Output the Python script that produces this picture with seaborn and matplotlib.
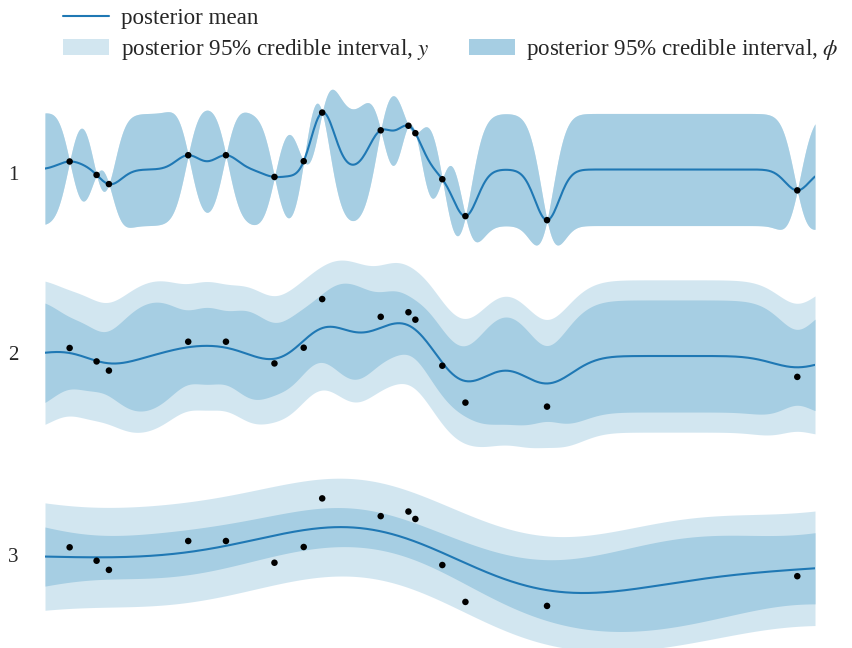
import numpy as np
import pandas as pd
import matplotlib
matplotlib.use("Agg")
import matplotlib.pyplot as plt
import seaborn as sns
from matplotlib.patches import Patch
from matplotlib.lines import Line2D

# observed data (same in every panel)
x_obs = [0.32, 0.67, 0.83, 1.86, 2.35, 2.98, 3.36, 3.60, 4.36, 4.72, 4.81, 5.16, 5.46, 6.52, 9.77]
y_obs = [0.28, -0.19, -0.51, 0.50, 0.50, -0.26, 0.29, 1.99, 1.37, 1.53, 1.27, -0.34, -1.63, -1.77, -0.73]

panel_labels = ["1", "2", "3"]
lengthscale = [0.156, 0.33, 1.55]
signal_sd = [1.0, 1.0, 1.0]
noise_sd = [0.01, 0.92, 0.80]

legend_labels = ["posterior mean",
                 r"posterior 95% credible interval, $y$",
                 r"posterior 95% credible interval, $\phi$"]

sns.set_theme(style="white")
plt.rcParams["font.family"] = ["Liberation Serif", "DejaVu Serif"]
plt.rcParams["mathtext.fontset"] = "stix"

LIGHT = (0.651, 0.808, 0.890, 0.5)
DARK = "#a6cee3"
LINE = "#1f78b4"

W, H = 852, 648
fig = plt.figure(figsize=(W / 100, H / 100), dpi=100)

PX = 28.6  # pixels per y unit
rows = [(75, 255), (255, 460), (460, 648)]
zero_px = [169.5, 356.0, 555.3]
label_px = [175, 356, 557]


def gp_posterior(xs, x, y, ell, sf, sn):
    x = np.asarray(x)
    y = np.asarray(y)
    K = sf**2 * np.exp(-(x[:, None] - x[None, :])**2 / (2 * ell**2)) + (sn**2 + 1e-8) * np.eye(len(x))
    Ks = sf**2 * np.exp(-(xs[:, None] - x[None, :])**2 / (2 * ell**2))
    alpha = np.linalg.solve(K, y)
    mean = Ks @ alpha
    v = np.linalg.solve(K, Ks.T)
    var_phi = np.clip(sf**2 - np.sum(Ks * v.T, axis=1), 0, None)
    var_y = var_phi + sn**2
    return mean, np.sqrt(var_phi), np.sqrt(var_y)


xs = np.linspace(0, 10, 600)
obs = pd.DataFrame({"x": x_obs, "y": y_obs})

for k in range(3):
    t, b = rows[k]
    ax = fig.add_axes([45 / W, 1 - b / H, 770 / W, (b - t) / H])
    mean, sd_phi, sd_y = gp_posterior(xs, x_obs, y_obs, lengthscale[k], signal_sd[k], noise_sd[k])
    ax.fill_between(xs, mean - 1.96 * sd_y, mean + 1.96 * sd_y, color=LIGHT, lw=0)
    ax.fill_between(xs, mean - 1.96 * sd_phi, mean + 1.96 * sd_phi, color=DARK, lw=0)
    df = pd.DataFrame({"x": xs, "mean": mean})
    sns.lineplot(data=df, x="x", y="mean", ax=ax, color=LINE, lw=1.5)
    sns.scatterplot(data=obs, x="x", y="y", ax=ax, color="black", s=22, edgecolor="none", zorder=5)
    ax.set_xlim(0, 10)
    ax.set_ylim((zero_px[k] - b) / PX, (zero_px[k] - t) / PX)
    ax.axis("off")
    fig.text(13 / W, 1 - label_px[k] / H, panel_labels[k], ha="center", va="center", fontsize=15)

handles = [Line2D([], [], color=LINE, lw=1.5),
           Patch(facecolor=LIGHT, edgecolor="none"),
           Patch(facecolor="none", edgecolor="none"),
           Patch(facecolor=DARK, edgecolor="none")]
labels = [legend_labels[0], legend_labels[1], "", legend_labels[2]]
fig.legend(handles, labels, loc="upper left", bbox_to_anchor=(63 / W, 1 - 8 / H),
           ncol=2, frameon=False, fontsize=16.6, handlelength=2.0, handleheight=0.7,
           handletextpad=0.5, columnspacing=1.7, labelspacing=0.35,
           borderpad=0, borderaxespad=0)

fig.savefig("out.png", dpi=100)
